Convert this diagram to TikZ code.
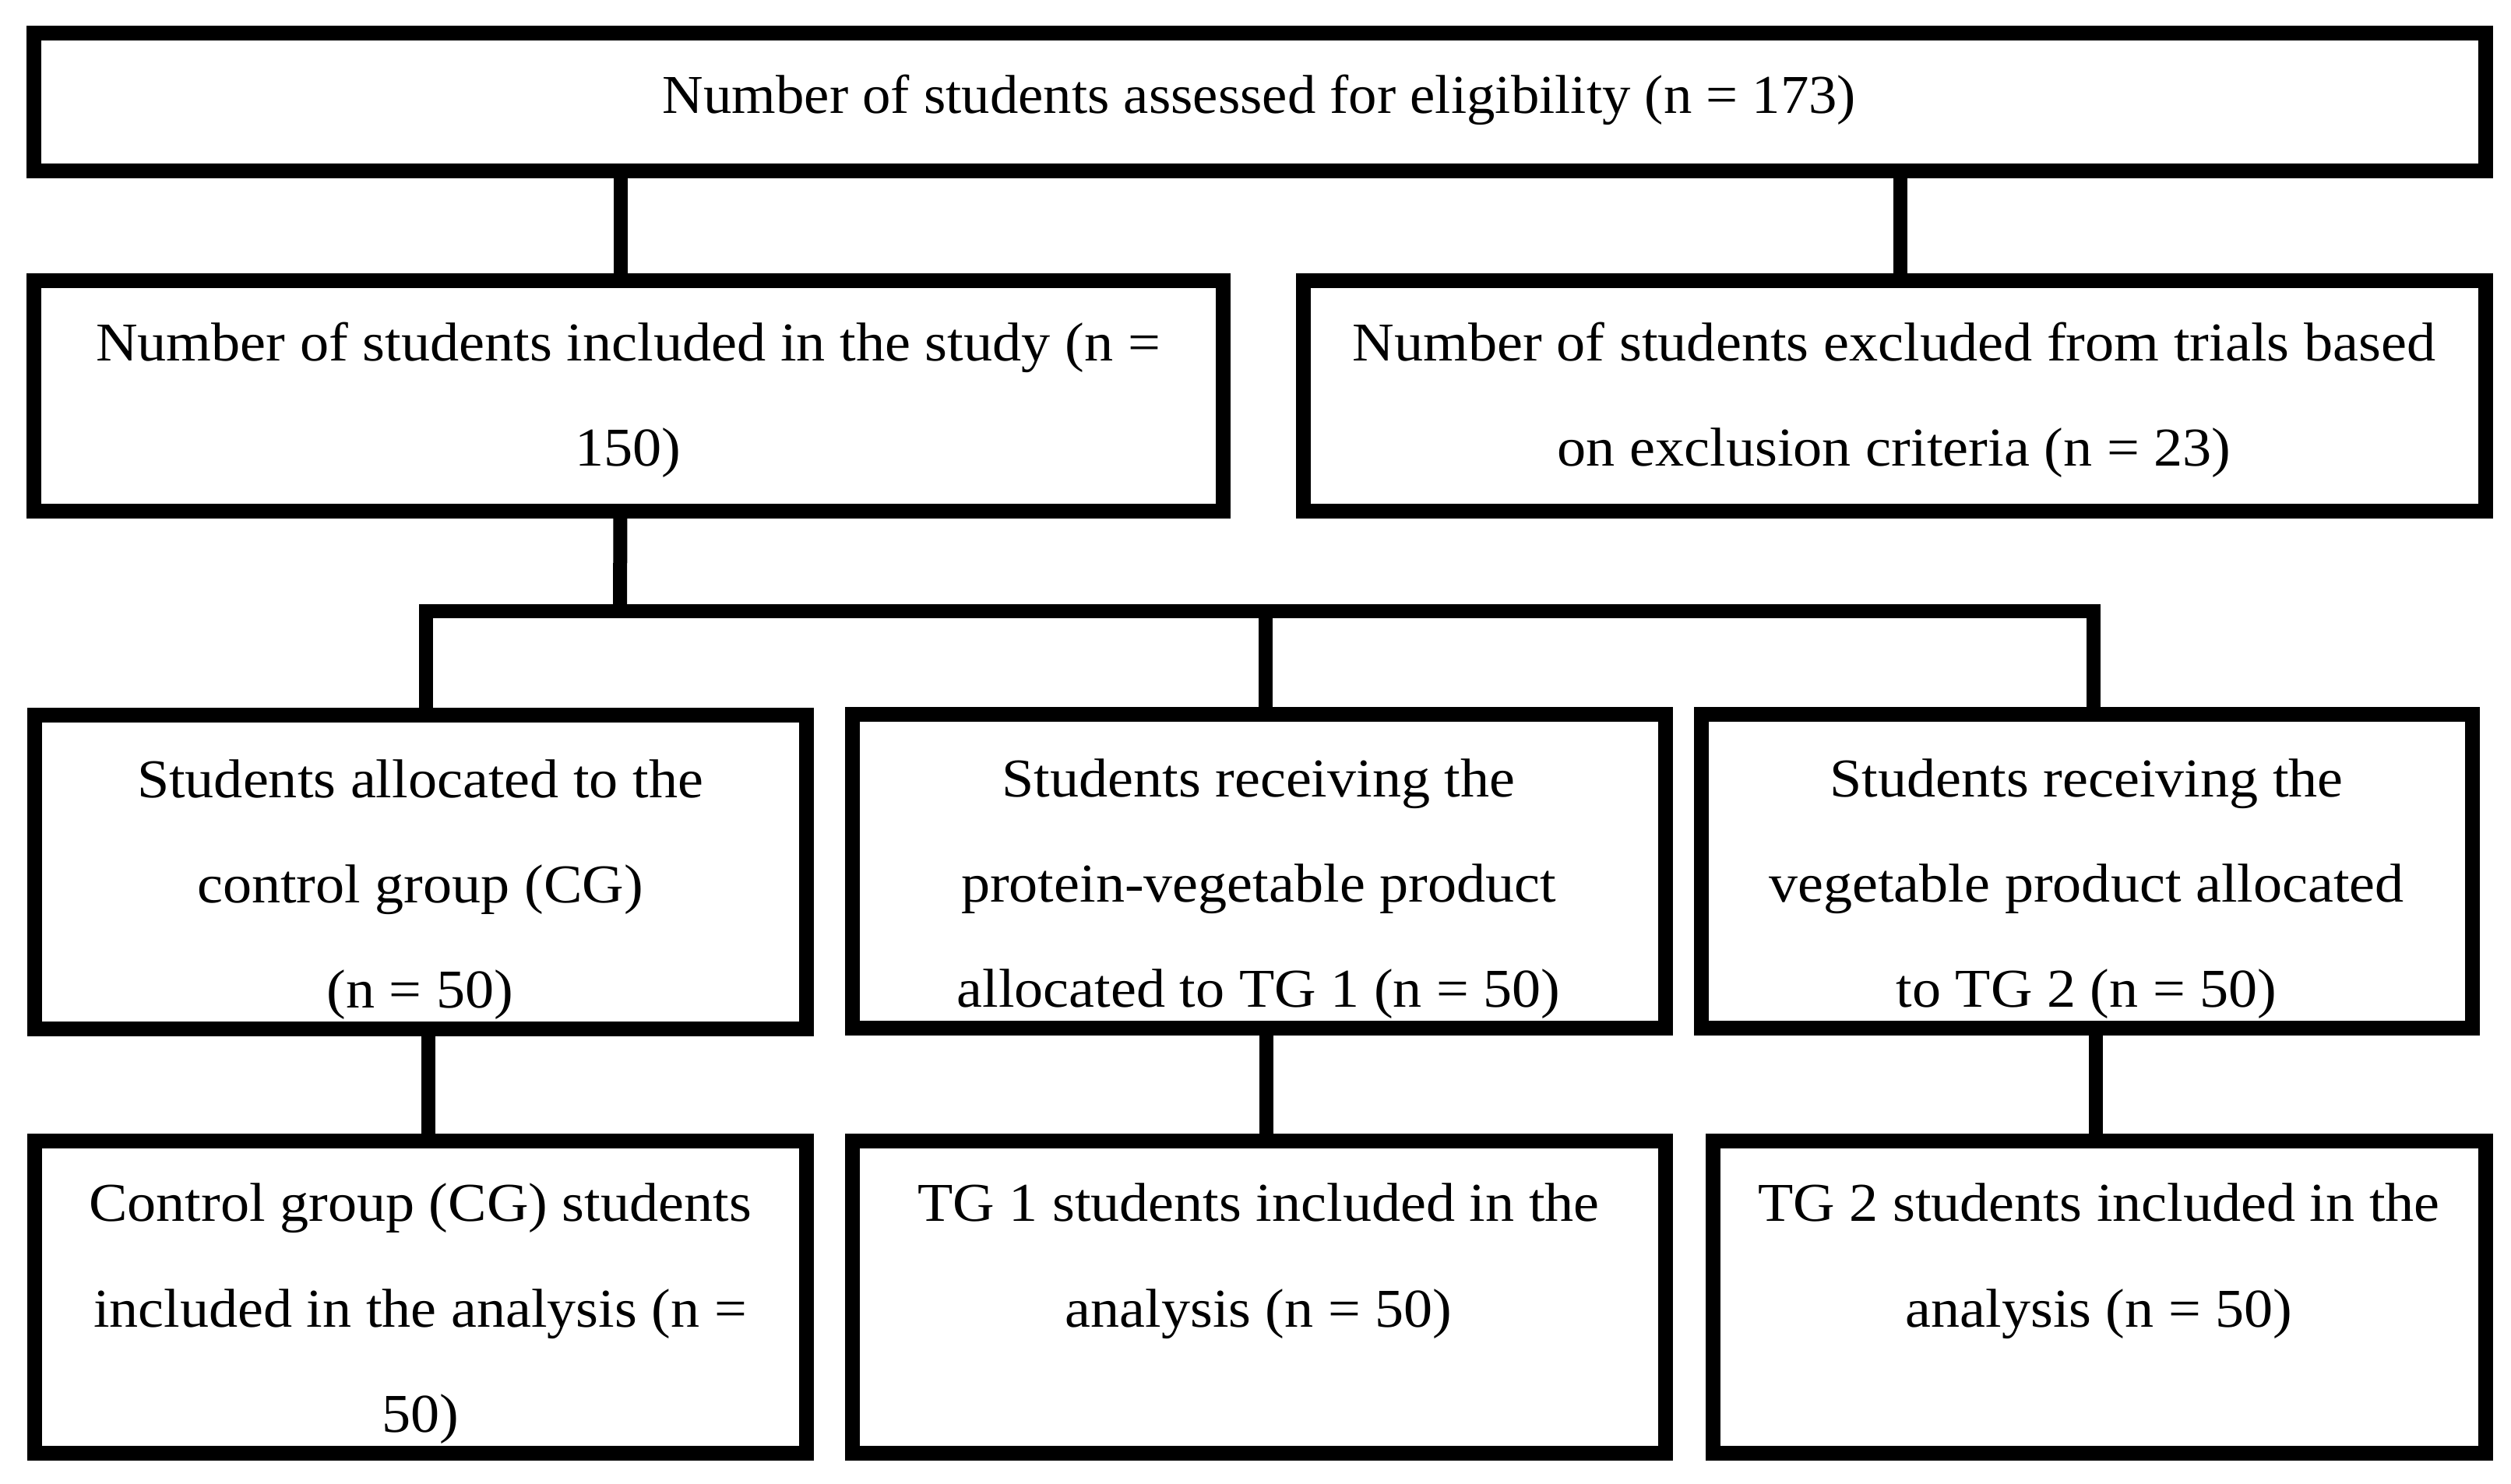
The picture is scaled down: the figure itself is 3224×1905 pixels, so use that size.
\documentclass[tikz,border=0pt]{standalone}
\usepackage{fontspec}
\setmainfont{Liberation Serif}
\usetikzlibrary{positioning}
\newcommand{\boxfont}{\fontsize{20}{38.5}\selectfont}
\tikzstyle{box}=[draw,rectangle,line width=1.9mm,inner sep=0pt,outer sep=0pt]
\tikzstyle{txt}=[align=center,inner sep=0pt,outer sep=0pt,anchor=north,font=\boxfont,transform shape]
\tikzstyle{link}=[line width=1.8mm]

\begin{document}
\begin{tikzpicture}[x=0.1mm,y=-0.1mm]
  \useasboundingbox (0,0) rectangle (3224,1905);

  % boxes
  \node[box,minimum width=314.8mm,minimum height=17.7mm] (elig) at (1617,130.5) {};
  \node[box,minimum width=152.7mm,minimum height=29.6mm] (incl) at (806.5,508) {};
  \node[box,minimum width=151.8mm,minimum height=29.6mm] (excl) at (2432,508) {};
  \node[box,minimum width=99.1mm,minimum height=40.3mm] (cg)   at (539.5,1120) {};
  \node[box,minimum width=104.4mm,minimum height=40.3mm] (tg1) at (1616,1119) {};
  \node[box,minimum width=99.0mm,minimum height=40.3mm] (tg2)  at (2679,1119) {};
  \node[box,minimum width=99.1mm,minimum height=40.1mm] (cgA)  at (539.5,1665.5) {};
  \node[box,minimum width=104.4mm,minimum height=40.1mm] (tg1A) at (1616,1665.5) {};
  \node[box,minimum width=99.2mm,minimum height=40.1mm] (tg2A) at (2695,1665.5) {};

  % texts
  \node[txt,xscale=1.035,below=0.86mm of elig.north] (eligT)
    {\strut Number of students assessed for eligibility (n = 173)};
  \node[txt,xscale=1.057,below=0.86mm of incl.north] (inclT)
    {\strut Number of students included in the study (n =\\150)};
  \node[txt,xscale=1.057,below=0.86mm of excl.north] (exclT)
    {\strut Number of students excluded from trials based\\on exclusion criteria (n = 23)};
  \node[txt,xscale=1.055,below=1.1mm of cg.north] (cgT)
    {\strut Students allocated to the\\control group (CG)\\(n = 50)};
  \node[txt,xscale=1.055,below=1.1mm of tg1.north] (tg1T)
    {\strut Students receiving the\\protein-vegetable product\\allocated to TG 1 (n = 50)};
  \node[txt,xscale=1.055,below=1.1mm of tg2.north] (tg2T)
    {\strut Students receiving the\\vegetable product allocated\\to TG 2 (n = 50)};
  \node[txt,xscale=1.055,below=0.9mm of cgA.north] (cgAT)
    {\strut Control group (CG) students\\included in the analysis (n =\\50)};
  \node[txt,xscale=1.055,below=0.9mm of tg1A.north] (tg1AT)
    {\strut TG 1 students included in the\\analysis (n = 50)};
  \node[txt,xscale=1.055,below=0.9mm of tg2A.north] (tg2AT)
    {\strut TG 2 students included in the\\analysis (n = 50)};

  % connectors
  \coordinate (bus) at (796,785);
  \draw[link] ([xshift=-1mm]incl.north) -- ([xshift=-1mm]incl.north |- elig.south);
  \draw[link] ([xshift=0.8mm]excl.north) -- ([xshift=0.8mm]excl.north |- elig.south);
  \draw[link] ([xshift=-1mm]incl.south) -- (bus);
  \draw[link] ([xshift=0.7mm]cg.north) -- ([xshift=0.7mm]cg.north |- bus)
    -- ([xshift=0.9mm]tg2.north |- bus) -- ([xshift=0.9mm]tg2.north);
  \draw[link] ([xshift=0.9mm]tg1.north) -- ([xshift=0.9mm]tg1.north |- bus);
  \foreach \from/\to in {cg/cgA, tg1/tg1A}
    \draw[link] ([xshift=1mm]\from.south) -- ([xshift=1mm]\to.north);
  \draw[link] ([xshift=-0.4mm]tg2A.north) -- ([xshift=-0.4mm]tg2A.north |- tg2.south);
\end{tikzpicture}
\end{document}
